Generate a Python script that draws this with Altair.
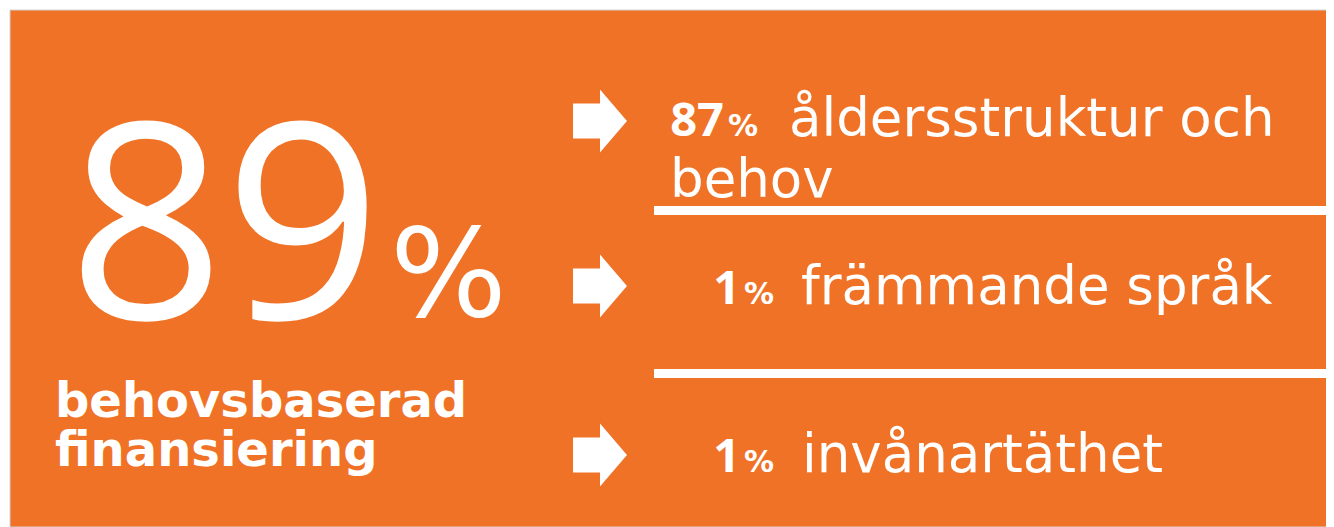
import altair as alt
import pandas as pd

# ---- content ----
headline_value = ["89"]
headline_unit = ["%"]
headline_label = ["behovsbaserad", "finansiering"]
factor_pct = ["87", "1", "1"]
factor_label_lines = [["åldersstruktur och", "behov"], ["främmande språk"], ["invånartäthet"]]

# ---- layout (page pixel coordinates) ----
ORANGE = "#F07226"
W, H = 1318, 519
row_baseline = [136, 304, 472]
row_arrow_y = [121, 286, 455]
row_num_x = [724, 740, 740]
row_label_x = [789, 801, 802]
wrap_x = 670
divider_y = [210.5, 373.5]
LINE_H = 61

xs = alt.Scale(domain=[8, 8 + W], nice=False, zero=False)
ys = alt.Scale(domain=[8, 8 + H], reverse=True, nice=False, zero=False)
X = lambda f: alt.X(f, type="quantitative", scale=xs, axis=None)
Y = lambda f: alt.Y(f, type="quantitative", scale=ys, axis=None)

bg = alt.Chart(pd.DataFrame({"x": [10], "x2": [1334], "y": [10], "y2": [527]})).mark_rect(
    color=ORANGE, stroke="#d0d0d0", strokeWidth=1
).encode(x=X("x"), x2="x2", y=Y("y"), y2="y2")

big = alt.Chart(pd.DataFrame({"t": headline_value, "x": [68], "y": [319]})).mark_text(
    font="Open Sans", fontSize=274, color="white", align="left", baseline="alphabetic"
).encode(x=X("x"), y=Y("y"), text="t:N")

big_unit = alt.Chart(pd.DataFrame({"t": headline_unit, "x": [390], "y": [316]})).mark_text(
    font="DejaVu Sans", fontSize=123, color="white", align="left", baseline="alphabetic"
).encode(x=X("x"), y=Y("y"), text="t:N")

hl = alt.Chart(pd.DataFrame({"t": headline_label, "x": [55, 55], "y": [417, 466]})).mark_text(
    font="DejaVu Sans", fontWeight="bold", fontSize=48, color="white", align="left", baseline="alphabetic"
).encode(x=X("x"), y=Y("y"), text="t:N")

rows = pd.DataFrame({
    "pct": factor_pct,
    "unit": ["%"] * 3,
    "y": row_baseline,
    "ay": row_arrow_y,
    "nx": row_num_x,
})
rows["px"] = rows["nx"] + 4
rows["axx"] = 600

# label lines: first line after the percentage, continuation lines wrap under the number
lab = []
for i, lines in enumerate(factor_label_lines):
    for j, t in enumerate(lines):
        lab.append({
            "t": t,
            "x": row_label_x[i] if j == 0 else wrap_x,
            "y": row_baseline[i] + LINE_H * j,
        })
lab = pd.DataFrame(lab)

arrow_path = "M-0.857,-0.556 L0,-0.556 L0,-1 L0.857,0 L0,1 L0,0.556 L-0.857,0.556 Z"
arrows = alt.Chart(rows).mark_point(
    shape=arrow_path, filled=True, color="white", opacity=1, size=3969, strokeWidth=0
).encode(x=X("axx"), y=Y("ay"))

nums = alt.Chart(rows).mark_text(
    font="Open Sans", fontWeight="bold", fontSize=47, color="white", align="right", baseline="alphabetic"
).encode(x=X("nx"), y=Y("y"), text="pct:N")

units = alt.Chart(rows).mark_text(
    font="DejaVu Sans", fontWeight="bold", fontSize=30, color="white", align="left", baseline="alphabetic"
).encode(x=X("px"), y=Y("y"), text="unit:N")

labels = alt.Chart(lab).mark_text(
    font="DejaVu Sans", fontSize=53, color="white", align="left", baseline="alphabetic"
).encode(x=X("x"), y=Y("y"), text="t:N")

div = alt.Chart(pd.DataFrame({"y": divider_y, "x": [654, 654], "x2": [1334, 1334]})).mark_rule(
    color="white", strokeWidth=9
).encode(x=X("x"), x2="x2", y=Y("y"))

chart = alt.layer(bg, big, big_unit, hl, div, arrows, nums, units, labels).properties(
    width=W, height=H, autosize=alt.AutoSizeParams(type="none"), padding=0, background="white"
).configure_view(stroke=None)

chart.save("out.html", embed_options={"renderer": "svg", "actions": False})
